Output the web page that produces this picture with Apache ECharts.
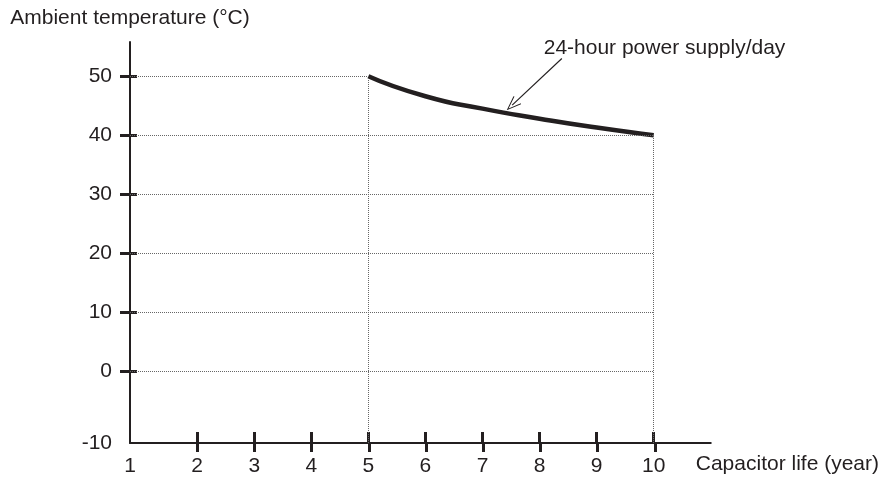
<!DOCTYPE html>
<html>
<head>
<meta charset="utf-8">
<script src="https://cdn.jsdelivr.net/npm/echarts@6/dist/echarts.min.js"></script>
<style>
  html, body { margin: 0; padding: 0; background: #fff; }
  #chart { width: 882px; height: 478px; }
</style>
</head>
<body>
<div id="chart"></div>
<script>
// capacitor life vs ambient temperature
var years = [5, 6, 7, 8, 9, 10];
var temps = [50, 46.6, 44.5, 42.8, 41.3, 40];
var xTicks = [1, 2, 3, 4, 5, 6, 7, 8, 9, 10];
var yTicks = [-10, 0, 10, 20, 30, 40, 50];
var curveName = '24-hour power supply/day';
var arrowTip = [7.52, 45.1];
var arrowTail = [8.39, 53.0];
var noteAt = [10.19, 54.75];

// the axes are broken near the origin: first tick sits at the axis corner
var xMin = 0.823, xMax = 11.0;
var yMin = -12.2, yMax = 55.8;
var font = 'Liberation Sans, Arial, sans-serif';
var ink = '#231f20';

function xPos(v) { return v === xTicks[0] ? xMin : v; }
function yPos(v) { return v === yTicks[0] ? yMin : v; }
var xTickPos = xTicks.map(xPos);
var yTickPos = yTicks.map(yPos);

function xLabel(v) {
  for (var i = 0; i < xTicks.length; i++) if (Math.abs(xTickPos[i] - v) < 1e-6) return String(xTicks[i]);
  return '';
}
function yLabel(v) {
  for (var i = 0; i < yTicks.length; i++) if (Math.abs(yTickPos[i] - v) < 1e-6) return String(yTicks[i]);
  return '';
}

var line = echarts.init(document.getElementById('chart'));

var firstX = years[0], lastX = years[years.length - 1];
var firstY = temps[0], lastY = temps[temps.length - 1];

// dotted guides
var guides = [];
yTicks.slice(1).forEach(function (v) {
  var endX = v > lastY ? firstX : lastX;
  guides.push([{ coord: [xMin, v] }, { coord: [endX, v] }]);
});
guides.push([{ coord: [firstX, yMin] }, { coord: [firstX, firstY] }]);
guides.push([{ coord: [lastX, yMin] }, { coord: [lastX, lastY] }]);

var chevron = 'path://M0,20 L10,0 L20,20 L18.4,20.8 L10,3.6 L1.6,20.8 Z';
var gridBox = { left: 130, right: 170, top: 42, bottom: 35 };

// second grid on top of the first one only carries the other half of each cross tick
var option = {
  animation: false,
  grid: [gridBox, gridBox],
  xAxis: [{
    type: 'value',
    gridIndex: 0,
    min: xMin, max: xMax,
    name: 'Capacitor life (year)',
    nameLocation: 'end',
    nameGap: -15,
    nameTextStyle: { fontFamily: font, fontSize: 21, color: ink, verticalAlign: 'top', align: 'left', padding: [11, 0, 0, 0] },
    axisLine: { onZero: false, lineStyle: { color: ink, width: 2 } },
    axisTick: { show: true, inside: true, length: 11, lineStyle: { color: ink, width: 3 }, customValues: xTickPos.slice(1) },
    axisLabel: { margin: 13, fontFamily: font, fontSize: 21, color: ink, customValues: xTickPos, formatter: xLabel },
    splitLine: { show: false }
  }, {
    type: 'value',
    gridIndex: 1,
    min: xMin, max: xMax,
    position: 'bottom',
    axisLine: { show: false, onZero: false },
    axisTick: { show: true, inside: false, length: 9, lineStyle: { color: ink, width: 3 }, customValues: xTickPos.slice(1) },
    axisLabel: { show: false },
    splitLine: { show: false }
  }],
  yAxis: [{
    type: 'value',
    gridIndex: 0,
    min: yMin, max: yMax,
    name: 'Ambient temperature (°C)',
    nameLocation: 'end',
    nameGap: 13,
    nameTextStyle: { fontFamily: font, fontSize: 21, color: ink },
    axisLine: { onZero: false, lineStyle: { color: ink, width: 2 } },
    axisTick: { show: true, inside: false, length: 10, lineStyle: { color: ink, width: 3 }, customValues: yTickPos.slice(1) },
    axisLabel: { margin: 18, fontFamily: font, fontSize: 21, color: ink, customValues: yTickPos, formatter: yLabel },
    splitLine: { show: false }
  }, {
    type: 'value',
    gridIndex: 1,
    min: yMin, max: yMax,
    position: 'left',
    axisLine: { show: false, onZero: false },
    axisTick: { show: true, inside: true, length: 7, lineStyle: { color: ink, width: 3 }, customValues: yTickPos.slice(1) },
    axisLabel: { show: false },
    splitLine: { show: false }
  }],
  series: [{
    type: 'line',
    name: curveName,
    data: years.map(function (x, i) { return [x, temps[i]]; }),
    smooth: 0.6,
    showSymbol: false,
    symbol: 'none',
    lineStyle: { color: ink, width: 4.5 },
    silent: true,
    z: 3,
    markLine: {
      silent: true,
      symbol: ['none', 'none'],
      label: { show: false },
      lineStyle: { color: '#666', width: 1, type: [1, 1] },
      emphasis: { disabled: true },
      data: guides
    }
  }, {
    // annotation arrow + text
    type: 'line',
    data: [],
    silent: true,
    markLine: {
      silent: true,
      symbol: ['none', chevron],
      symbolSize: [11, 15],
      label: { show: false },
      lineStyle: { color: ink, width: 1.2, type: 'solid' },
      emphasis: { disabled: true },
      data: [[{ coord: arrowTail }, { coord: arrowTip }]]
    },
    markPoint: {
      silent: true,
      symbol: 'rect',
      symbolSize: 1,
      itemStyle: { color: 'rgba(0,0,0,0)' },
      label: { show: true, position: 'inside', formatter: curveName, fontFamily: font, fontSize: 21, color: ink },
      data: [{ coord: noteAt }]
    }
  }]
};

line.setOption(option);
</script>
</body>
</html>
